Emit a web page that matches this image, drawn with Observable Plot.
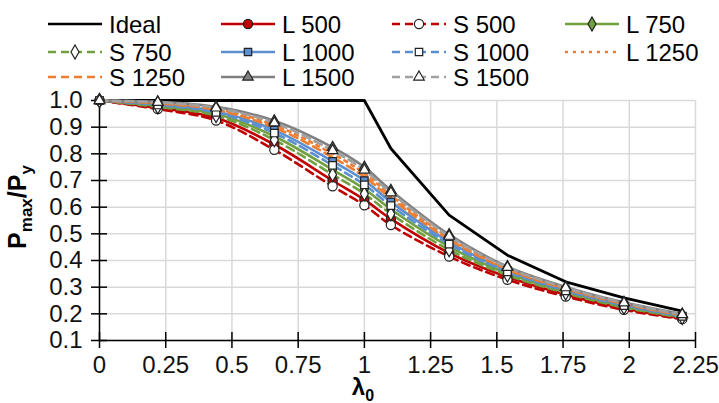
<!DOCTYPE html>
<html><head><meta charset="utf-8">
<script src="https://cdn.jsdelivr.net/npm/d3@7"></script>
<script src="https://cdn.jsdelivr.net/npm/@observablehq/plot@0.6"></script>
<style>
body{margin:0;background:#fff;font-family:"Liberation Sans",Arial,sans-serif;}
svg{display:block}
</style></head><body>
<svg id="legend" width="719" height="90"></svg>
<div id="chart"></div>
<script>
// ---- data ----
const lambda = [0, 0.22, 0.44, 0.66, 0.88, 1.0, 1.1, 1.32, 1.54, 1.76, 1.98, 2.2];
const ideal  = [1, 1, 1, 1, 1, 1, 0.82, 0.57, 0.42, 0.32, 0.26, 0.21];
const seriesNames = ["L 500","S 500","L 750","S 750","L 1000","S 1000","L 1250","S 1250","L 1500","S 1500"];
const L500  = [1.0, 0.972, 0.935, 0.835, 0.700, 0.628, 0.556, 0.428, 0.338, 0.272, 0.220, 0.183];
const S500  = [1.0, 0.968, 0.925, 0.815, 0.678, 0.607, 0.533, 0.415, 0.328, 0.265, 0.215, 0.180];
const L750  = [1.0, 0.980, 0.950, 0.866, 0.740, 0.668, 0.592, 0.452, 0.352, 0.283, 0.228, 0.188];
const S750  = [1.0, 0.976, 0.943, 0.852, 0.722, 0.650, 0.575, 0.440, 0.345, 0.278, 0.224, 0.186];
const L1000 = [1.0, 0.986, 0.960, 0.889, 0.772, 0.700, 0.620, 0.470, 0.362, 0.290, 0.234, 0.192];
const S1000 = [1.0, 0.983, 0.955, 0.878, 0.757, 0.684, 0.606, 0.461, 0.357, 0.286, 0.231, 0.190];
const L1250 = [1.0, 0.991, 0.969, 0.908, 0.800, 0.727, 0.644, 0.485, 0.370, 0.296, 0.239, 0.196];
const S1250 = [1.0, 0.989, 0.965, 0.899, 0.787, 0.714, 0.633, 0.478, 0.366, 0.293, 0.237, 0.194];
const L1500 = [1.0, 0.995, 0.976, 0.924, 0.824, 0.750, 0.663, 0.497, 0.377, 0.301, 0.243, 0.199];
const S1500 = [1.0, 0.993, 0.972, 0.916, 0.812, 0.739, 0.654, 0.491, 0.374, 0.298, 0.241, 0.197];
const seriesValues = [L500, S500, L750, S750, L1000, S1000, L1250, S1250, L1500, S1500];
const xTicks = [0, 0.25, 0.5, 0.75, 1, 1.25, 1.5, 1.75, 2, 2.25];
const yTicks = [0.1, 0.2, 0.3, 0.4, 0.5, 0.6, 0.7, 0.8, 0.9, 1.0];

// ---- styles ----
const styles = {
  "L 500":  {color:"#c00000", dash:null,  symbol:"circle",   hollow:false},
  "S 500":  {color:"#c00000", dash:"8,5", symbol:"circle",   hollow:true},
  "L 750":  {color:"#70a040", dash:null,  symbol:"diamond",  hollow:false},
  "S 750":  {color:"#70a040", dash:"8,5", symbol:"diamond",  hollow:true},
  "L 1000": {color:"#5b8fd0", dash:null,  symbol:"square",   hollow:false},
  "S 1000": {color:"#5b8fd0", dash:"8,5", symbol:"square",   hollow:true},
  "L 1250": {color:"#ed7d31", dash:"3,5", symbol:null,       hollow:false},
  "S 1250": {color:"#ed7d31", dash:"8,5", symbol:null,       hollow:false},
  "L 1500": {color:"#808080", dash:null,  symbol:"triangle", hollow:false},
  "S 1500": {color:"#a0a0a0", dash:"8,5", symbol:"triangle", hollow:true}
};
const symbolR = {circle:4.6, diamond:4.2, square:4.2, triangle:3.9};

const rows = seriesNames.flatMap((name,k) => lambda.map((x,i) => ({name, x, y: seriesValues[k][i]})));
const idealRows = lambda.map((x,i) => ({x, y: ideal[i]}));

const marks = [
  Plot.ruleX(xTicks, {x: d => d, y1: 0.1, y2: 1.0, stroke:"#d9d9d9", strokeWidth:1.5}),
  Plot.ruleY(yTicks, {y: d => d, x1: 0, x2: 2.25, stroke:"#d9d9d9", strokeWidth:1.5}),
  Plot.ruleY([0.1], {x1:0, x2:2.25, stroke:"#000", strokeWidth:1.5}),
  Plot.ruleX([0], {y1:0.1, y2:1.0, stroke:"#000", strokeWidth:1.5}),
  Plot.ruleX(xTicks, {x: d => d, y1: 0.1, y2: 0.1, insetTop:-8, insetBottom:-8, stroke:"#000", strokeWidth:1.5}),
  Plot.ruleY(yTicks, {y: d => d, x1: 0, x2: 0, insetLeft:-8, insetRight:-8, stroke:"#000", strokeWidth:1.5}),
  Plot.axisX({ticks: xTicks, tickSize:0, tickPadding:15, tickFormat: d => String(d), fontSize:24, fill:"#111", label:null}),
  Plot.axisY({ticks: yTicks, tickSize:0, tickPadding:17, tickFormat: d3.format(".1f"), fontSize:24, fill:"#111", label:null}),
  Plot.line(idealRows, {x:"x", y:"y", stroke:"#000", strokeWidth:2.8})
];
for (const name of seriesNames) {
  const s = styles[name];
  marks.push(Plot.line(rows.filter(d => d.name === name), {
    x:"x", y:"y", stroke:s.color, strokeWidth:2.6, strokeDasharray:s.dash, curve:"catmull-rom"
  }));
}
for (const name of seriesNames) {
  const s = styles[name];
  if (!s.symbol) continue;
  marks.push(Plot.dot(rows.filter(d => d.name === name), {
    x:"x", y:"y", symbol:s.symbol, r: symbolR[s.symbol],
    fill: s.hollow ? "#fff" : s.color, stroke:"#222", strokeWidth:1.2
  }));
}

const chart = Plot.plot({
  width: 719, height: 313,
  marginTop: 10, marginBottom: 63, marginLeft: 99, marginRight: 24,
  style: {fontFamily: '"Liberation Sans", Arial, sans-serif', background:"#fff", overflow:"visible"},
  x: {domain:[0, 2.25], label:null},
  y: {domain:[0.1, 1.0], label:null},
  marks
});
document.getElementById("chart").appendChild(chart);

// axis titles
const svg = d3.select(chart);
const yt = svg.append("text")
  .attr("transform", "translate(26,117) rotate(-90)")
  .attr("text-anchor","middle")
  .attr("font-family",'"Liberation Sans", Arial, sans-serif')
  .attr("font-weight","bold").attr("font-size",25).attr("fill","#000");
yt.append("tspan").text("P");
yt.append("tspan").attr("font-size",17).attr("dy",6).text("max");
yt.append("tspan").attr("dy",-6).text("/P");
yt.append("tspan").attr("font-size",17).attr("dy",6).text("y");

const xt = svg.append("text")
  .attr("x", 363).attr("y", 305)
  .attr("text-anchor","middle")
  .attr("font-family",'"Liberation Sans", Arial, sans-serif')
  .attr("font-weight","bold").attr("font-size",24).attr("fill","#000");
xt.append("tspan").text("λ");
xt.append("tspan").attr("font-size",16).attr("dy",6).text("0");

// legend
const legendItems = ["Ideal", ...seriesNames];
const colX = [48, 221, 392, 565];
const rowY = [24, 52, 77];
const lg = d3.select("#legend");
legendItems.forEach((name, i) => {
  const cx = colX[i % 4], cy = rowY[Math.floor(i / 4)];
  const g = lg.append("g");
  const s = name === "Ideal" ? {color:"#000", dash:null, symbol:null} : styles[name];
  g.append("line").attr("x1", cx).attr("x2", cx + 54).attr("y1", cy).attr("y2", cy)
    .attr("stroke", s.color).attr("stroke-width", 2.6)
    .attr("stroke-dasharray", s.dash);
  if (s.symbol) {
    const symType = {circle:d3.symbolCircle, diamond:d3.symbolDiamond, square:d3.symbolSquare, triangle:d3.symbolTriangle}[s.symbol];
    const r = symbolR[s.symbol];
    g.append("path").attr("d", d3.symbol(symType, Math.PI * r * r)())
      .attr("transform", `translate(${cx + 27},${cy})`)
      .attr("fill", s.hollow ? "#fff" : s.color).attr("stroke", "#222").attr("stroke-width", 1.2);
  }
  g.append("text").attr("x", cx + 61).attr("y", cy + 8.5)
    .attr("font-size", 24).attr("fill", "#000")
    .attr("font-family", '"Liberation Sans", Arial, sans-serif')
    .text(name);
});
</script>
</body></html>
